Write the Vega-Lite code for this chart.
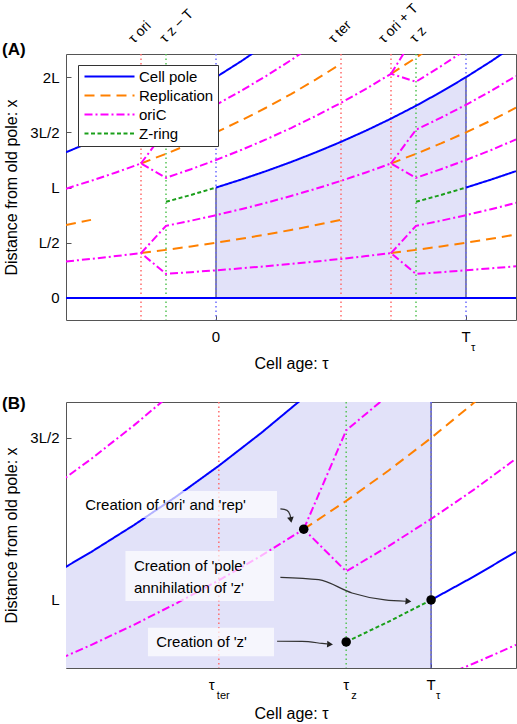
{
  "$schema": "https://vega.github.io/schema/vega-lite/v6.json",
  "padding": {"left": 1, "right": 2, "top": 0, "bottom": 0},
  "spacing": 22,
  "config": {
    "font": "Liberation Sans",
    "view": {"stroke": "#555555", "strokeWidth": 1},
    "axis": {"domain": false, "grid": false, "labelFont": "Liberation Sans", "titleFont": "Liberation Sans", "labelFontSize": 15, "titleFontSize": 16, "titleFontWeight": "normal", "labelColor": "#000000", "titleColor": "#000000", "tickColor": "#555555", "tickSize": -5, "labelPadding": 12},
    "text": {"font": "Liberation Sans", "color": "#000000"}
  },
  "resolve": {"scale": {"color": "independent", "strokeDash": "independent"}},
  "datasets": {
    "lines": [
      {"seg": "p0", "series": "Cell pole", "tau": -0.6, "x": 0}, {"seg": "p0", "series": "Cell pole", "tau": 1.2, "x": 0},
      {"seg": "p1", "series": "Cell pole", "tau": -0.6, "x": 1.3195}, {"seg": "p1", "series": "Cell pole", "tau": -0.5, "x": 1.4142}, {"seg": "p1", "series": "Cell pole", "tau": -0.4, "x": 1.5157}, {"seg": "p1", "series": "Cell pole", "tau": -0.3, "x": 1.6245}, {"seg": "p1", "series": "Cell pole", "tau": -0.2, "x": 1.7411}, {"seg": "p1", "series": "Cell pole", "tau": -0.1, "x": 1.8661}, {"seg": "p1", "series": "Cell pole", "tau": 0, "x": 2}, {"seg": "p1", "series": "Cell pole", "tau": 0.1, "x": 2.1435}, {"seg": "p1", "series": "Cell pole", "tau": 0.2, "x": 2.2974},
      {"seg": "p2", "series": "Cell pole", "tau": 0, "x": 1}, {"seg": "p2", "series": "Cell pole", "tau": 0.1, "x": 1.0718}, {"seg": "p2", "series": "Cell pole", "tau": 0.2, "x": 1.1487}, {"seg": "p2", "series": "Cell pole", "tau": 0.3, "x": 1.2311}, {"seg": "p2", "series": "Cell pole", "tau": 0.4, "x": 1.3195}, {"seg": "p2", "series": "Cell pole", "tau": 0.5, "x": 1.4142}, {"seg": "p2", "series": "Cell pole", "tau": 0.6, "x": 1.5157}, {"seg": "p2", "series": "Cell pole", "tau": 0.7, "x": 1.6245}, {"seg": "p2", "series": "Cell pole", "tau": 0.8, "x": 1.7411}, {"seg": "p2", "series": "Cell pole", "tau": 0.9, "x": 1.8661}, {"seg": "p2", "series": "Cell pole", "tau": 1.0, "x": 2}, {"seg": "p2", "series": "Cell pole", "tau": 1.1, "x": 2.1435}, {"seg": "p2", "series": "Cell pole", "tau": 1.2, "x": 2.2974},
      {"seg": "p3", "series": "Cell pole", "tau": 1.0, "x": 1}, {"seg": "p3", "series": "Cell pole", "tau": 1.1, "x": 1.0718}, {"seg": "p3", "series": "Cell pole", "tau": 1.2, "x": 1.1487},
      {"seg": "r1", "series": "Replication", "tau": -0.6, "x": 0.6598}, {"seg": "r1", "series": "Replication", "tau": -0.5, "x": 0.7071},
      {"seg": "r2", "series": "Replication", "tau": -0.3, "x": 0.4061}, {"seg": "r2", "series": "Replication", "tau": -0.2, "x": 0.4353}, {"seg": "r2", "series": "Replication", "tau": -0.1, "x": 0.4665}, {"seg": "r2", "series": "Replication", "tau": 0, "x": 0.5}, {"seg": "r2", "series": "Replication", "tau": 0.1, "x": 0.5359}, {"seg": "r2", "series": "Replication", "tau": 0.2, "x": 0.5743}, {"seg": "r2", "series": "Replication", "tau": 0.3, "x": 0.6156}, {"seg": "r2", "series": "Replication", "tau": 0.4, "x": 0.6598}, {"seg": "r2", "series": "Replication", "tau": 0.5, "x": 0.7071},
      {"seg": "r3", "series": "Replication", "tau": -0.3, "x": 1.2184}, {"seg": "r3", "series": "Replication", "tau": -0.2, "x": 1.3059}, {"seg": "r3", "series": "Replication", "tau": -0.1, "x": 1.3995}, {"seg": "r3", "series": "Replication", "tau": 0, "x": 1.5}, {"seg": "r3", "series": "Replication", "tau": 0.1, "x": 1.6077}, {"seg": "r3", "series": "Replication", "tau": 0.2, "x": 1.723}, {"seg": "r3", "series": "Replication", "tau": 0.3, "x": 1.8467}, {"seg": "r3", "series": "Replication", "tau": 0.4, "x": 1.9793}, {"seg": "r3", "series": "Replication", "tau": 0.5, "x": 2.1213},
      {"seg": "r4", "series": "Replication", "tau": 0.7, "x": 0.4061}, {"seg": "r4", "series": "Replication", "tau": 0.8, "x": 0.4353}, {"seg": "r4", "series": "Replication", "tau": 0.9, "x": 0.4665}, {"seg": "r4", "series": "Replication", "tau": 1.0, "x": 0.5}, {"seg": "r4", "series": "Replication", "tau": 1.1, "x": 0.5359}, {"seg": "r4", "series": "Replication", "tau": 1.2, "x": 0.5744},
      {"seg": "r5", "series": "Replication", "tau": 0.7, "x": 1.2184}, {"seg": "r5", "series": "Replication", "tau": 0.8, "x": 1.3058}, {"seg": "r5", "series": "Replication", "tau": 0.9, "x": 1.3996}, {"seg": "r5", "series": "Replication", "tau": 1.0, "x": 1.5}, {"seg": "r5", "series": "Replication", "tau": 1.1, "x": 1.6076}, {"seg": "r5", "series": "Replication", "tau": 1.2, "x": 1.7231},
      {"seg": "r6", "series": "Replication", "tau": 0.7, "x": 2.0306}, {"seg": "r6", "series": "Replication", "tau": 0.8, "x": 2.1764}, {"seg": "r6", "series": "Replication", "tau": 0.9, "x": 2.3326},
      {"seg": "o1", "series": "oriC", "tau": -0.6, "x": 0.3299}, {"seg": "o1", "series": "oriC", "tau": -0.5, "x": 0.3536}, {"seg": "o1", "series": "oriC", "tau": -0.4, "x": 0.379}, {"seg": "o1", "series": "oriC", "tau": -0.3, "x": 0.4061}, {"seg": "o1", "series": "oriC", "tau": -0.2, "x": 0.2177}, {"seg": "o1", "series": "oriC", "tau": -0.1, "x": 0.2333}, {"seg": "o1", "series": "oriC", "tau": 0, "x": 0.25}, {"seg": "o1", "series": "oriC", "tau": 0.1, "x": 0.268}, {"seg": "o1", "series": "oriC", "tau": 0.2, "x": 0.2872}, {"seg": "o1", "series": "oriC", "tau": 0.3, "x": 0.3078}, {"seg": "o1", "series": "oriC", "tau": 0.4, "x": 0.3299}, {"seg": "o1", "series": "oriC", "tau": 0.5, "x": 0.3536}, {"seg": "o1", "series": "oriC", "tau": 0.6, "x": 0.3789}, {"seg": "o1", "series": "oriC", "tau": 0.7, "x": 0.4061}, {"seg": "o1", "series": "oriC", "tau": 0.8, "x": 0.2176}, {"seg": "o1", "series": "oriC", "tau": 0.9, "x": 0.2333}, {"seg": "o1", "series": "oriC", "tau": 1.0, "x": 0.25}, {"seg": "o1", "series": "oriC", "tau": 1.1, "x": 0.2679}, {"seg": "o1", "series": "oriC", "tau": 1.2, "x": 0.2872},
      {"seg": "o2", "series": "oriC", "tau": -0.3, "x": 0.4061}, {"seg": "o2", "series": "oriC", "tau": -0.2, "x": 0.653}, {"seg": "o2", "series": "oriC", "tau": -0.1, "x": 0.6998}, {"seg": "o2", "series": "oriC", "tau": 0, "x": 0.75}, {"seg": "o2", "series": "oriC", "tau": 0.1, "x": 0.8039}, {"seg": "o2", "series": "oriC", "tau": 0.2, "x": 0.8615}, {"seg": "o2", "series": "oriC", "tau": 0.3, "x": 0.9233}, {"seg": "o2", "series": "oriC", "tau": 0.4, "x": 0.9896}, {"seg": "o2", "series": "oriC", "tau": 0.5, "x": 1.0607}, {"seg": "o2", "series": "oriC", "tau": 0.6, "x": 1.1368}, {"seg": "o2", "series": "oriC", "tau": 0.7, "x": 1.2184}, {"seg": "o2", "series": "oriC", "tau": 0.8, "x": 1.0882}, {"seg": "o2", "series": "oriC", "tau": 0.9, "x": 1.1663}, {"seg": "o2", "series": "oriC", "tau": 1.0, "x": 1.25}, {"seg": "o2", "series": "oriC", "tau": 1.1, "x": 1.3397}, {"seg": "o2", "series": "oriC", "tau": 1.2, "x": 1.4359},
      {"seg": "o3", "series": "oriC", "tau": 0.7, "x": 0.4061}, {"seg": "o3", "series": "oriC", "tau": 0.8, "x": 0.6529}, {"seg": "o3", "series": "oriC", "tau": 0.9, "x": 0.6998}, {"seg": "o3", "series": "oriC", "tau": 1.0, "x": 0.75}, {"seg": "o3", "series": "oriC", "tau": 1.1, "x": 0.8038}, {"seg": "o3", "series": "oriC", "tau": 1.2, "x": 0.8615},
      {"seg": "o4", "series": "oriC", "tau": 0.7, "x": 1.2184}, {"seg": "o4", "series": "oriC", "tau": 0.8, "x": 1.5235}, {"seg": "o4", "series": "oriC", "tau": 0.9, "x": 1.6328}, {"seg": "o4", "series": "oriC", "tau": 1.0, "x": 1.75}, {"seg": "o4", "series": "oriC", "tau": 1.1, "x": 1.8756}, {"seg": "o4", "series": "oriC", "tau": 1.2, "x": 2.0102},
      {"seg": "o5", "series": "oriC", "tau": -0.6, "x": 0.9897}, {"seg": "o5", "series": "oriC", "tau": -0.5, "x": 1.0607}, {"seg": "o5", "series": "oriC", "tau": -0.4, "x": 1.1369}, {"seg": "o5", "series": "oriC", "tau": -0.3, "x": 1.2184}, {"seg": "o5", "series": "oriC", "tau": -0.2, "x": 1.0883}, {"seg": "o5", "series": "oriC", "tau": -0.1, "x": 1.1663}, {"seg": "o5", "series": "oriC", "tau": 0, "x": 1.25}, {"seg": "o5", "series": "oriC", "tau": 0.1, "x": 1.3398}, {"seg": "o5", "series": "oriC", "tau": 0.2, "x": 1.4359}, {"seg": "o5", "series": "oriC", "tau": 0.3, "x": 1.5389}, {"seg": "o5", "series": "oriC", "tau": 0.4, "x": 1.6494}, {"seg": "o5", "series": "oriC", "tau": 0.5, "x": 1.7678}, {"seg": "o5", "series": "oriC", "tau": 0.6, "x": 1.8946}, {"seg": "o5", "series": "oriC", "tau": 0.7, "x": 2.0306}, {"seg": "o5", "series": "oriC", "tau": 0.8, "x": 1.9587}, {"seg": "o5", "series": "oriC", "tau": 0.9, "x": 2.0994}, {"seg": "o5", "series": "oriC", "tau": 1.0, "x": 2.25},
      {"seg": "o6", "series": "oriC", "tau": -0.3, "x": 1.2184}, {"seg": "o6", "series": "oriC", "tau": -0.2, "x": 1.5236}, {"seg": "o6", "series": "oriC", "tau": -0.1, "x": 1.6328}, {"seg": "o6", "series": "oriC", "tau": 0, "x": 1.75}, {"seg": "o6", "series": "oriC", "tau": 0.1, "x": 1.8757}, {"seg": "o6", "series": "oriC", "tau": 0.2, "x": 2.0102}, {"seg": "o6", "series": "oriC", "tau": 0.3, "x": 2.1544}, {"seg": "o6", "series": "oriC", "tau": 0.4, "x": 2.3091},
      {"seg": "o7", "series": "oriC", "tau": 0.7, "x": 2.0306}, {"seg": "o7", "series": "oriC", "tau": 0.8, "x": 2.394},
      {"seg": "z1", "series": "Z-ring", "tau": -0.2, "x": 0.8706}, {"seg": "z1", "series": "Z-ring", "tau": -0.1, "x": 0.933}, {"seg": "z1", "series": "Z-ring", "tau": 0, "x": 1},
      {"seg": "z2", "series": "Z-ring", "tau": 0.8, "x": 0.8706}, {"seg": "z2", "series": "Z-ring", "tau": 0.9, "x": 0.933}, {"seg": "z2", "series": "Z-ring", "tau": 1.0, "x": 1}
    ],
    "shade": [
      {"tau": 0, "top": 1}, {"tau": 0.1, "top": 1.0718}, {"tau": 0.2, "top": 1.1487}, {"tau": 0.3, "top": 1.2311}, {"tau": 0.4, "top": 1.3195}, {"tau": 0.5, "top": 1.4142}, {"tau": 0.6, "top": 1.5157}, {"tau": 0.7, "top": 1.6245}, {"tau": 0.8, "top": 1.7411}, {"tau": 0.9, "top": 1.8661}, {"tau": 1.0, "top": 2}
    ],
    "edges": [{"tau": 0, "top": 1}, {"tau": 1, "top": 2}],
    "vlinesA": [
      {"tau": -0.3, "kind": "ori"}, {"tau": -0.2, "kind": "z"}, {"tau": 0, "kind": "div"}, {"tau": 0.5, "kind": "ori"}, {"tau": 0.7, "kind": "ori"}, {"tau": 0.8, "kind": "z"}, {"tau": 1, "kind": "div"}
    ],
    "vlinesB": [{"tau": 0.5, "kind": "ori"}, {"tau": 0.8, "kind": "z"}, {"tau": 1, "kind": "div"}],
    "toplabels": [
      {"tau": -0.3, "kind": "ori", "label": "τ ori"}, {"tau": -0.2, "kind": "z", "label": "τ z − T"}, {"tau": 0.5, "kind": "ori", "label": "τ ter"}, {"tau": 0.7, "kind": "ori", "label": "τ ori + T"}, {"tau": 0.8, "kind": "z", "label": "τ z"}
    ],
    "ticksA": [{"tau": 0, "main": "0", "sub": ""}, {"tau": 1, "main": "T", "sub": "τ"}],
    "ticksB": [{"tau": 0.5, "main": "τ", "sub": "ter"}, {"tau": 0.8, "main": "τ", "sub": "z"}, {"tau": 1, "main": "T", "sub": "τ"}],
    "dots": [{"tau": 0.7, "x": 1.2184}, {"tau": 0.8, "x": 0.8706}, {"tau": 1.0, "x": 1.0}],
    "boxes": [
      {"t1": 0.178, "t2": 0.637, "x1": 1.253, "x2": 1.336},
      {"t1": 0.28, "t2": 0.63, "x1": 0.997, "x2": 1.151},
      {"t1": 0.333, "t2": 0.63, "x1": 0.826, "x2": 0.914}
    ],
    "notes": [
      {"tau": 0.1854, "x": 1.294, "text": "Creation of 'ori' and 'rep'"},
      {"tau": 0.3, "x": 1.105, "text": "Creation of 'pole'"},
      {"tau": 0.3, "x": 1.037, "text": "annihilation of 'z'"},
      {"tau": 0.3525, "x": 0.8694, "text": "Creation of 'z'"}
    ],
    "arrows": [
      {"arrow": "a1", "tau": 0.645, "x": 1.281}, {"arrow": "a1", "tau": 0.6607, "x": 1.2765}, {"arrow": "a1", "tau": 0.6678, "x": 1.2623}, {"arrow": "a1", "tau": 0.6698, "x": 1.25},
      {"arrow": "a2", "tau": 0.645, "x": 1.07}, {"arrow": "a2", "tau": 0.7353, "x": 1.0627}, {"arrow": "a2", "tau": 0.8136, "x": 1.0216}, {"arrow": "a2", "tau": 0.8913, "x": 1.0}, {"arrow": "a2", "tau": 0.9407, "x": 0.996},
      {"arrow": "a3", "tau": 0.6372, "x": 0.8725}, {"arrow": "a3", "tau": 0.696, "x": 0.872}, {"arrow": "a3", "tau": 0.743, "x": 0.866}, {"arrow": "a3", "tau": 0.7548, "x": 0.8642}
    ],
    "heads": [
      {"arrow": "a1", "tau": 0.6698, "x": 1.247},
      {"arrow": "a2", "tau": 0.9466, "x": 0.996},
      {"arrow": "a3", "tau": 0.7619, "x": 0.863}
    ],
    "panelA": [{"label": "(A)"}],
    "panelB": [{"label": "(B)"}]
  },
  "vconcat": [
    {
      "width": 450,
      "height": 266,
      "layer": [
        {
          "data": {"name": "shade"},
          "mark": {"type": "area", "color": "#e2e2f9", "clip": true},
          "encoding": {
            "x": {"field": "tau", "type": "quantitative", "scale": {"domain": [-0.6, 1.2], "nice": false, "zero": false}, "axis": {"values": [0, 1], "labels": false, "title": "Cell age: τ", "titlePadding": 35}},
            "y": {"field": "top", "type": "quantitative", "scale": {"domain": [-0.2, 2.21], "nice": false, "zero": false}, "axis": {"values": [0, 0.5, 1, 1.5, 2], "labelExpr": "datum.value == 0 ? '0' : datum.value == 0.5 ? 'L/2' : datum.value == 1 ? 'L' : datum.value == 1.5 ? '3L/2' : '2L'", "title": "Distance from old pole: x", "titlePadding": 10}},
            "y2": {"datum": 0}
          }
        },
        {
          "data": {"name": "edges"},
          "mark": {"type": "rule", "color": "#404070", "strokeWidth": 1.2, "clip": true},
          "encoding": {"x": {"field": "tau", "type": "quantitative"}, "y": {"field": "top", "type": "quantitative"}, "y2": {"datum": 0}}
        },
        {
          "data": {"name": "vlinesA"},
          "transform": [{"filter": "datum.kind == 'ori'"}],
          "mark": {"type": "rule", "color": "#ff6b6b", "strokeDash": [1.5, 3], "strokeWidth": 1.5},
          "encoding": {"x": {"field": "tau", "type": "quantitative"}}
        },
        {
          "data": {"name": "vlinesA"},
          "transform": [{"filter": "datum.kind == 'z'"}],
          "mark": {"type": "rule", "color": "#55c455", "strokeDash": [1.5, 3], "strokeWidth": 1.5},
          "encoding": {"x": {"field": "tau", "type": "quantitative"}}
        },
        {
          "data": {"name": "vlinesA"},
          "transform": [{"filter": "datum.kind == 'div'"}],
          "mark": {"type": "rule", "color": "#6b6bff", "strokeDash": [1.5, 3], "strokeWidth": 1.5},
          "encoding": {"x": {"field": "tau", "type": "quantitative"}}
        },
        {
          "data": {"name": "lines"},
          "mark": {"type": "line", "strokeWidth": 2, "clip": true},
          "encoding": {
            "x": {"field": "tau", "type": "quantitative"},
            "y": {"field": "x", "type": "quantitative"},
            "detail": {"field": "seg", "type": "nominal"},
            "color": {"field": "series", "type": "nominal", "scale": {"domain": ["Cell pole", "Replication", "oriC", "Z-ring"], "range": ["#0000ff", "#ff8000", "#ff00ff", "#1a9f1a"]},
              "legend": {"title": null, "orient": "none", "legendX": 12, "legendY": 11, "symbolType": "M-1,0H9", "symbolSize": 100, "symbolStrokeWidth": 2, "labelOffset": 42, "padding": 4, "rowPadding": 3, "fillColor": "white", "strokeColor": "#333333", "labelFontSize": 15, "labelFont": "Liberation Sans", "labelColor": "#000000"}},
            "strokeDash": {"field": "series", "type": "nominal", "scale": {"domain": ["Cell pole", "Replication", "oriC", "Z-ring"], "range": [[1, 0], [10, 6], [8, 3, 2, 3], [4, 2.5]]},
              "legend": {"title": null, "orient": "none", "legendX": 12, "legendY": 11, "symbolType": "M-1,0H9", "symbolSize": 100, "symbolStrokeWidth": 2, "labelOffset": 42, "padding": 4, "rowPadding": 3, "fillColor": "white", "strokeColor": "#333333", "labelFontSize": 15, "labelFont": "Liberation Sans", "labelColor": "#000000"}}
          }
        },
        {
          "data": {"name": "toplabels"},
          "transform": [{"filter": "datum.kind == 'ori'"}],
          "mark": {"type": "text", "angle": 315, "align": "left", "baseline": "middle", "fontSize": 14, "dx": 2, "dy": -16},
          "encoding": {"x": {"field": "tau", "type": "quantitative"}, "y": {"datum": 2.21}, "text": {"field": "label"}}
        },
        {
          "data": {"name": "toplabels"},
          "transform": [{"filter": "datum.kind == 'z'"}],
          "mark": {"type": "text", "angle": 315, "align": "left", "baseline": "middle", "fontSize": 14, "dx": 7, "dy": -12},
          "encoding": {"x": {"field": "tau", "type": "quantitative"}, "y": {"datum": 2.21}, "text": {"field": "label"}}
        },
        {
          "data": {"name": "ticksA"},
          "mark": {"type": "text", "align": "center", "baseline": "middle", "fontSize": 15, "dy": 17},
          "encoding": {"x": {"field": "tau", "type": "quantitative"}, "y": {"datum": -0.2}, "text": {"field": "main"}}
        },
        {
          "data": {"name": "ticksA"},
          "mark": {"type": "text", "align": "left", "baseline": "middle", "fontSize": 11, "dx": 5, "dy": 28},
          "encoding": {"x": {"field": "tau", "type": "quantitative"}, "y": {"datum": -0.2}, "text": {"field": "sub"}}
        },
        {
          "data": {"name": "panelA"},
          "mark": {"type": "text", "align": "left", "baseline": "middle", "fontSize": 17, "fontWeight": "bold", "dx": -64, "dy": -4},
          "encoding": {"x": {"datum": -0.6}, "y": {"datum": 2.21}, "text": {"field": "label"}}
        }
      ]
    },
    {
      "width": 450,
      "height": 266,
      "layer": [
        {
          "data": {"name": "shade"},
          "mark": {"type": "area", "color": "#e2e2f9", "clip": true},
          "encoding": {
            "x": {"field": "tau", "type": "quantitative", "scale": {"domain": [0.14, 1.2], "nice": false, "zero": false}, "axis": {"values": [0.5, 0.8, 1], "labels": false, "title": "Cell age: τ", "titlePadding": 37}},
            "y": {"field": "top", "type": "quantitative", "scale": {"domain": [0.79, 1.611], "nice": false, "zero": false}, "axis": {"values": [1, 1.5], "labelExpr": "datum.value == 1 ? 'L' : '3L/2'", "title": "Distance from old pole: x", "titlePadding": 10}},
            "y2": {"datum": 0}
          }
        },
        {
          "data": {"name": "edges"},
          "mark": {"type": "rule", "color": "#404070", "strokeWidth": 1.2, "clip": true},
          "encoding": {"x": {"field": "tau", "type": "quantitative"}, "y": {"field": "top", "type": "quantitative"}, "y2": {"datum": 0}}
        },
        {
          "data": {"name": "vlinesB"},
          "transform": [{"filter": "datum.kind == 'ori'"}],
          "mark": {"type": "rule", "color": "#ff6b6b", "strokeDash": [1.5, 3], "strokeWidth": 1.5},
          "encoding": {"x": {"field": "tau", "type": "quantitative"}}
        },
        {
          "data": {"name": "vlinesB"},
          "transform": [{"filter": "datum.kind == 'z'"}],
          "mark": {"type": "rule", "color": "#55c455", "strokeDash": [1.5, 3], "strokeWidth": 1.5},
          "encoding": {"x": {"field": "tau", "type": "quantitative"}}
        },
        {
          "data": {"name": "vlinesB"},
          "transform": [{"filter": "datum.kind == 'div'"}],
          "mark": {"type": "rule", "color": "#6b6bff", "strokeDash": [1.5, 3], "strokeWidth": 1.5},
          "encoding": {"x": {"field": "tau", "type": "quantitative"}}
        },
        {
          "data": {"name": "lines"},
          "mark": {"type": "line", "strokeWidth": 2, "clip": true},
          "encoding": {
            "x": {"field": "tau", "type": "quantitative"},
            "y": {"field": "x", "type": "quantitative"},
            "detail": {"field": "seg", "type": "nominal"},
            "color": {"field": "series", "type": "nominal", "scale": {"domain": ["Cell pole", "Replication", "oriC", "Z-ring"], "range": ["#0000ff", "#ff8000", "#ff00ff", "#1a9f1a"]}, "legend": null},
            "strokeDash": {"field": "series", "type": "nominal", "scale": {"domain": ["Cell pole", "Replication", "oriC", "Z-ring"], "range": [[1, 0], [10, 6], [8, 3, 2, 3], [4, 2.5]]}, "legend": null}
          }
        },
        {
          "data": {"name": "boxes"},
          "mark": {"type": "rect", "color": "#ffffff", "opacity": 0.7},
          "encoding": {"x": {"field": "t1", "type": "quantitative"}, "x2": {"field": "t2"}, "y": {"field": "x1", "type": "quantitative"}, "y2": {"field": "x2"}}
        },
        {
          "data": {"name": "notes"},
          "mark": {"type": "text", "align": "left", "baseline": "middle", "fontSize": 15},
          "encoding": {"x": {"field": "tau", "type": "quantitative"}, "y": {"field": "x", "type": "quantitative"}, "text": {"field": "text"}}
        },
        {
          "data": {"name": "arrows"},
          "mark": {"type": "line", "color": "#333333", "strokeWidth": 1.2, "interpolate": "monotone"},
          "encoding": {"x": {"field": "tau", "type": "quantitative"}, "y": {"field": "x", "type": "quantitative"}, "detail": {"field": "arrow", "type": "nominal"}}
        },
        {
          "data": {"name": "heads"},
          "transform": [{"filter": "datum.arrow == 'a1'"}],
          "mark": {"type": "point", "shape": "triangle-right", "filled": true, "color": "#222222", "size": 45, "angle": 80, "opacity": 1},
          "encoding": {"x": {"field": "tau", "type": "quantitative"}, "y": {"field": "x", "type": "quantitative"}}
        },
        {
          "data": {"name": "heads"},
          "transform": [{"filter": "datum.arrow != 'a1'"}],
          "mark": {"type": "point", "shape": "triangle-right", "filled": true, "color": "#222222", "size": 45, "angle": 4, "opacity": 1},
          "encoding": {"x": {"field": "tau", "type": "quantitative"}, "y": {"field": "x", "type": "quantitative"}}
        },
        {
          "data": {"name": "dots"},
          "mark": {"type": "circle", "color": "#000000", "size": 90, "opacity": 1},
          "encoding": {"x": {"field": "tau", "type": "quantitative"}, "y": {"field": "x", "type": "quantitative"}}
        },
        {
          "data": {"name": "ticksB"},
          "transform": [{"filter": "datum.sub != 'ter'"}],
          "mark": {"type": "text", "align": "center", "baseline": "middle", "fontSize": 15, "dy": 17},
          "encoding": {"x": {"field": "tau", "type": "quantitative"}, "y": {"datum": 0.79}, "text": {"field": "main"}}
        },
        {
          "data": {"name": "ticksB"},
          "transform": [{"filter": "datum.sub != 'ter'"}],
          "mark": {"type": "text", "align": "left", "baseline": "middle", "fontSize": 11, "dx": 5, "dy": 28},
          "encoding": {"x": {"field": "tau", "type": "quantitative"}, "y": {"datum": 0.79}, "text": {"field": "sub"}}
        },
        {
          "data": {"name": "ticksB"},
          "transform": [{"filter": "datum.sub == 'ter'"}],
          "mark": {"type": "text", "align": "center", "baseline": "middle", "fontSize": 15, "dx": -7, "dy": 17},
          "encoding": {"x": {"field": "tau", "type": "quantitative"}, "y": {"datum": 0.79}, "text": {"field": "main"}}
        },
        {
          "data": {"name": "ticksB"},
          "transform": [{"filter": "datum.sub == 'ter'"}],
          "mark": {"type": "text", "align": "left", "baseline": "middle", "fontSize": 11, "dx": -2, "dy": 28},
          "encoding": {"x": {"field": "tau", "type": "quantitative"}, "y": {"datum": 0.79}, "text": {"field": "sub"}}
        },
        {
          "data": {"name": "panelB"},
          "mark": {"type": "text", "align": "left", "baseline": "middle", "fontSize": 17, "fontWeight": "bold", "dx": -64, "dy": 2},
          "encoding": {"x": {"datum": 0.14}, "y": {"datum": 1.611}, "text": {"field": "label"}}
        }
      ]
    }
  ]
}
